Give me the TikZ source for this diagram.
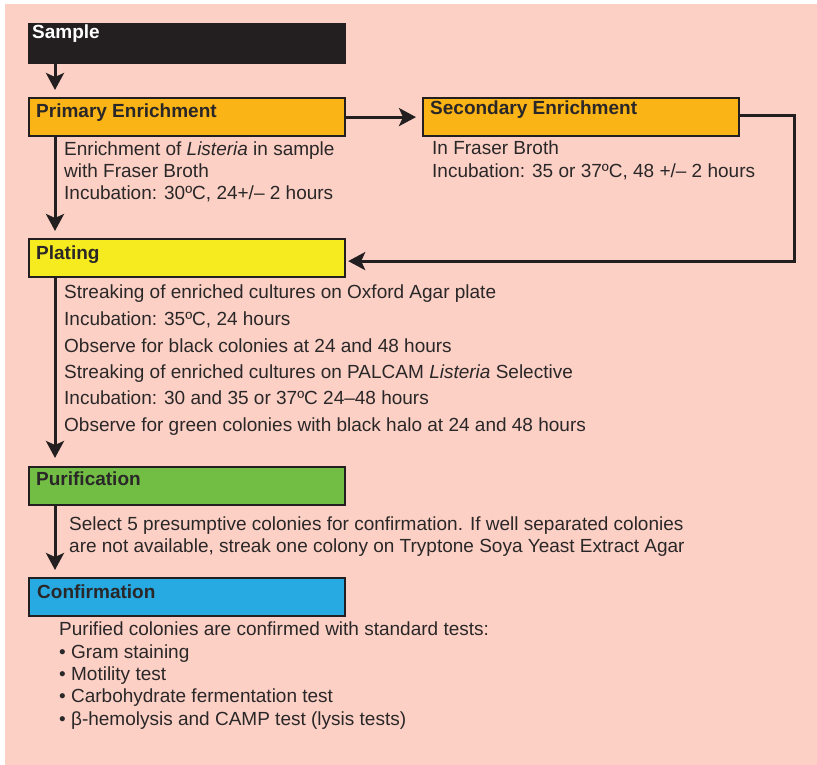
\documentclass[tikz,border=0pt]{standalone}
\usepackage{fontspec}
\setmainfont{Liberation Sans}
\usetikzlibrary{arrows.meta,calc}
\definecolor{bgpink}{HTML}{FCD0C5}
\definecolor{boxline}{HTML}{231F20}
\definecolor{textdark}{HTML}{2A2728}
\definecolor{stepOrange}{HTML}{FBB416}
\definecolor{stepYellow}{HTML}{F5EB1E}
\definecolor{stepGreen}{HTML}{72BE44}
\definecolor{stepBlue}{HTML}{27A9E1}
\begin{document}
\begin{tikzpicture}[x=1pt,y=-1pt,
  box/.style={draw=boxline, line width=2.2pt, anchor=north west,
    minimum width=316pt, minimum height=38pt, inner sep=0pt},
  title/.style={anchor=base west, inner sep=0pt,
    font=\fontsize{19}{22}\selectfont\bfseries, text=textdark},
  body/.style={anchor=base west, inner sep=0pt,
    font=\fontsize{19}{22}\selectfont, text=textdark},
  flow/.style={line width=3pt, draw=boxline,
    -{Stealth[length=17pt,width=18pt,inset=4pt]}}]

% canvas
\useasboundingbox (0,0) rectangle (817,765);
\fill[white] (0,0) rectangle (817,765);
\fill[bgpink] (5,4) rectangle (817,765);

% step boxes
\node[box, fill=boxline, minimum height=39pt] (sample) at (28,23) {};
\node[title, text=white] (sampleT) at ($(sample.north west)+(4,16)$) {Sample};

\node[box, fill=stepOrange] (prim) at (28,97) {};
\node[title] (primT) at ($(prim.north west)+(8,21)$) {Primary Enrichment};

\node[box, fill=stepOrange] (sec) at (422,97) {};
\node[title] (secT) at ($(sec.north west)+(8,18)$) {Secondary Enrichment};

\node[box, fill=stepYellow] (plat) at (28,238) {};
\node[title] (platT) at ($(plat.north west)+(8,21)$) {Plating};

\node[box, fill=stepGreen] (puri) at (28,466) {};
\node[title] (puriT) at ($(puri.north west)+(8,19)$) {Purification};

\node[box, fill=stepBlue] (conf) at (28,577) {};
\node[title] (confT) at ($(conf.north west)+(9,21)$) {Confirmation};

% connectors
\coordinate (spine) at (55,0);
\coordinate (loop) at (794,0);
\draw[flow, shorten >=7pt] (sample.south -| spine) -- (prim.north -| spine);
\draw[flow, shorten >=7pt] (prim.south -| spine) -- (plat.north -| spine);
\draw[flow, shorten >=8pt] (plat.south -| spine) -- (puri.north -| spine);
\draw[flow, shorten >=7pt] (puri.south -| spine) -- (conf.north -| spine);
\draw[flow, shorten >=6pt] (prim.east) -- (sec.east -| sec.west);
\draw[flow, shorten >=2pt] ([yshift=2pt]sec.east) -- ([yshift=2pt]sec.east -| loop)
  -- ([yshift=-3pt]plat.east -| loop) -- ([yshift=-3pt]plat.east);

% descriptions
\node[body] (p1) at (64,156) {Enrichment of \textit{Listeria} in sample};
\node[body] (p2) at (64,178) {with Fraser Broth};
\node[body] (p3) at (64,200) {Incubation: 30ºC, 24+/– 2 hours};

\node[body] (s1) at (432,155) {In Fraser Broth};
\node[body] (s2) at (432,178) {Incubation: 35 or 37ºC, 48 +/– 2 hours};

\node[body] (l1) at (64,298) {Streaking of enriched cultures on Oxford Agar plate};
\node[body] (l2) at (64,325) {Incubation: 35ºC, 24 hours};
\node[body] (l3) at (64,352) {Observe for black colonies at 24 and 48 hours};
\node[body] (l4) at (64,378) {Streaking of enriched cultures on PALCAM \textit{Listeria} Selective};
\node[body] (l5) at (64,404) {Incubation: 30 and 35 or 37ºC 24–48 hours};
\node[body] (l6) at (64,431) {Observe for green colonies with black halo at 24 and 48 hours};

\node[body] (u1) at (69,530) {Select 5 presumptive colonies for confirmation. If well separated colonies};
\node[body] (u2) at (69,552) {are not available, streak one colony on Tryptone Soya Yeast Extract Agar};

\node[body] (c0) at (59,635) {Purified colonies are confirmed with standard tests:};
\node[body] (c1) at (59,658) {• Gram staining};
\node[body] (c2) at (59,680) {• Motility test};
\node[body] (c3) at (59,702) {• Carbohydrate fermentation test};
\node[body] (c4) at (59,725) {• β-hemolysis and CAMP test (lysis tests)};
\end{tikzpicture}
\end{document}
